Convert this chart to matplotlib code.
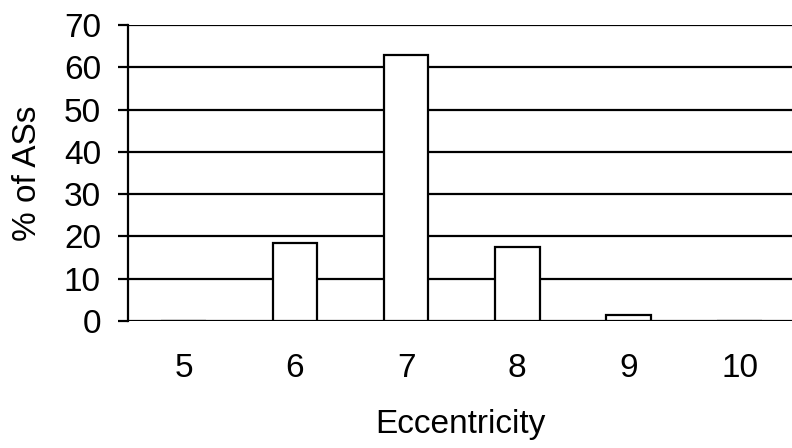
import matplotlib
matplotlib.use('Agg')
import matplotlib.pyplot as plt
from matplotlib import rc

rc('font', family=['Liberation Sans', 'DejaVu Sans'])
fnt_sz = 24
lw = 1.6

# data
eccentricity = [5, 6, 7, 8, 9, 10]
pct_ass = [0, 18.4, 63, 17.5, 1.3, 0]
yticks = [0, 10, 20, 30, 40, 50, 60, 70]

fig = plt.figure(figsize=(7.92, 4.48), dpi=100)
ax = fig.add_axes([0.1616, 0.284, 0.8384, 0.66])

ax.set_axisbelow(True)
ax.grid(axis='y', color='black', linewidth=lw)
ax.bar(eccentricity, pct_ass, width=0.4, color='white', edgecolor='black',
       linewidth=lw, zorder=3)

ax.set_xlim(4.5, 10.47)
ax.set_ylim(0, 70)
ax.set_yticks(yticks)
ax.set_xticks(eccentricity)
ax.set_xticklabels([str(e) for e in eccentricity])

for s in ['top', 'right', 'bottom']:
    ax.spines[s].set_visible(False)
ax.spines['left'].set_linewidth(lw)

ax.tick_params(axis='y', direction='out', length=7.5, width=lw,
               labelsize=fnt_sz, pad=12)
ax.tick_params(axis='x', length=0, labelsize=fnt_sz, pad=23)

ax.set_xlabel('Eccentricity', fontsize=fnt_sz, labelpad=18)
ax.set_ylabel('% of ASs', fontsize=fnt_sz, labelpad=15)

plt.savefig('out.png', dpi=100)
plt.close()
